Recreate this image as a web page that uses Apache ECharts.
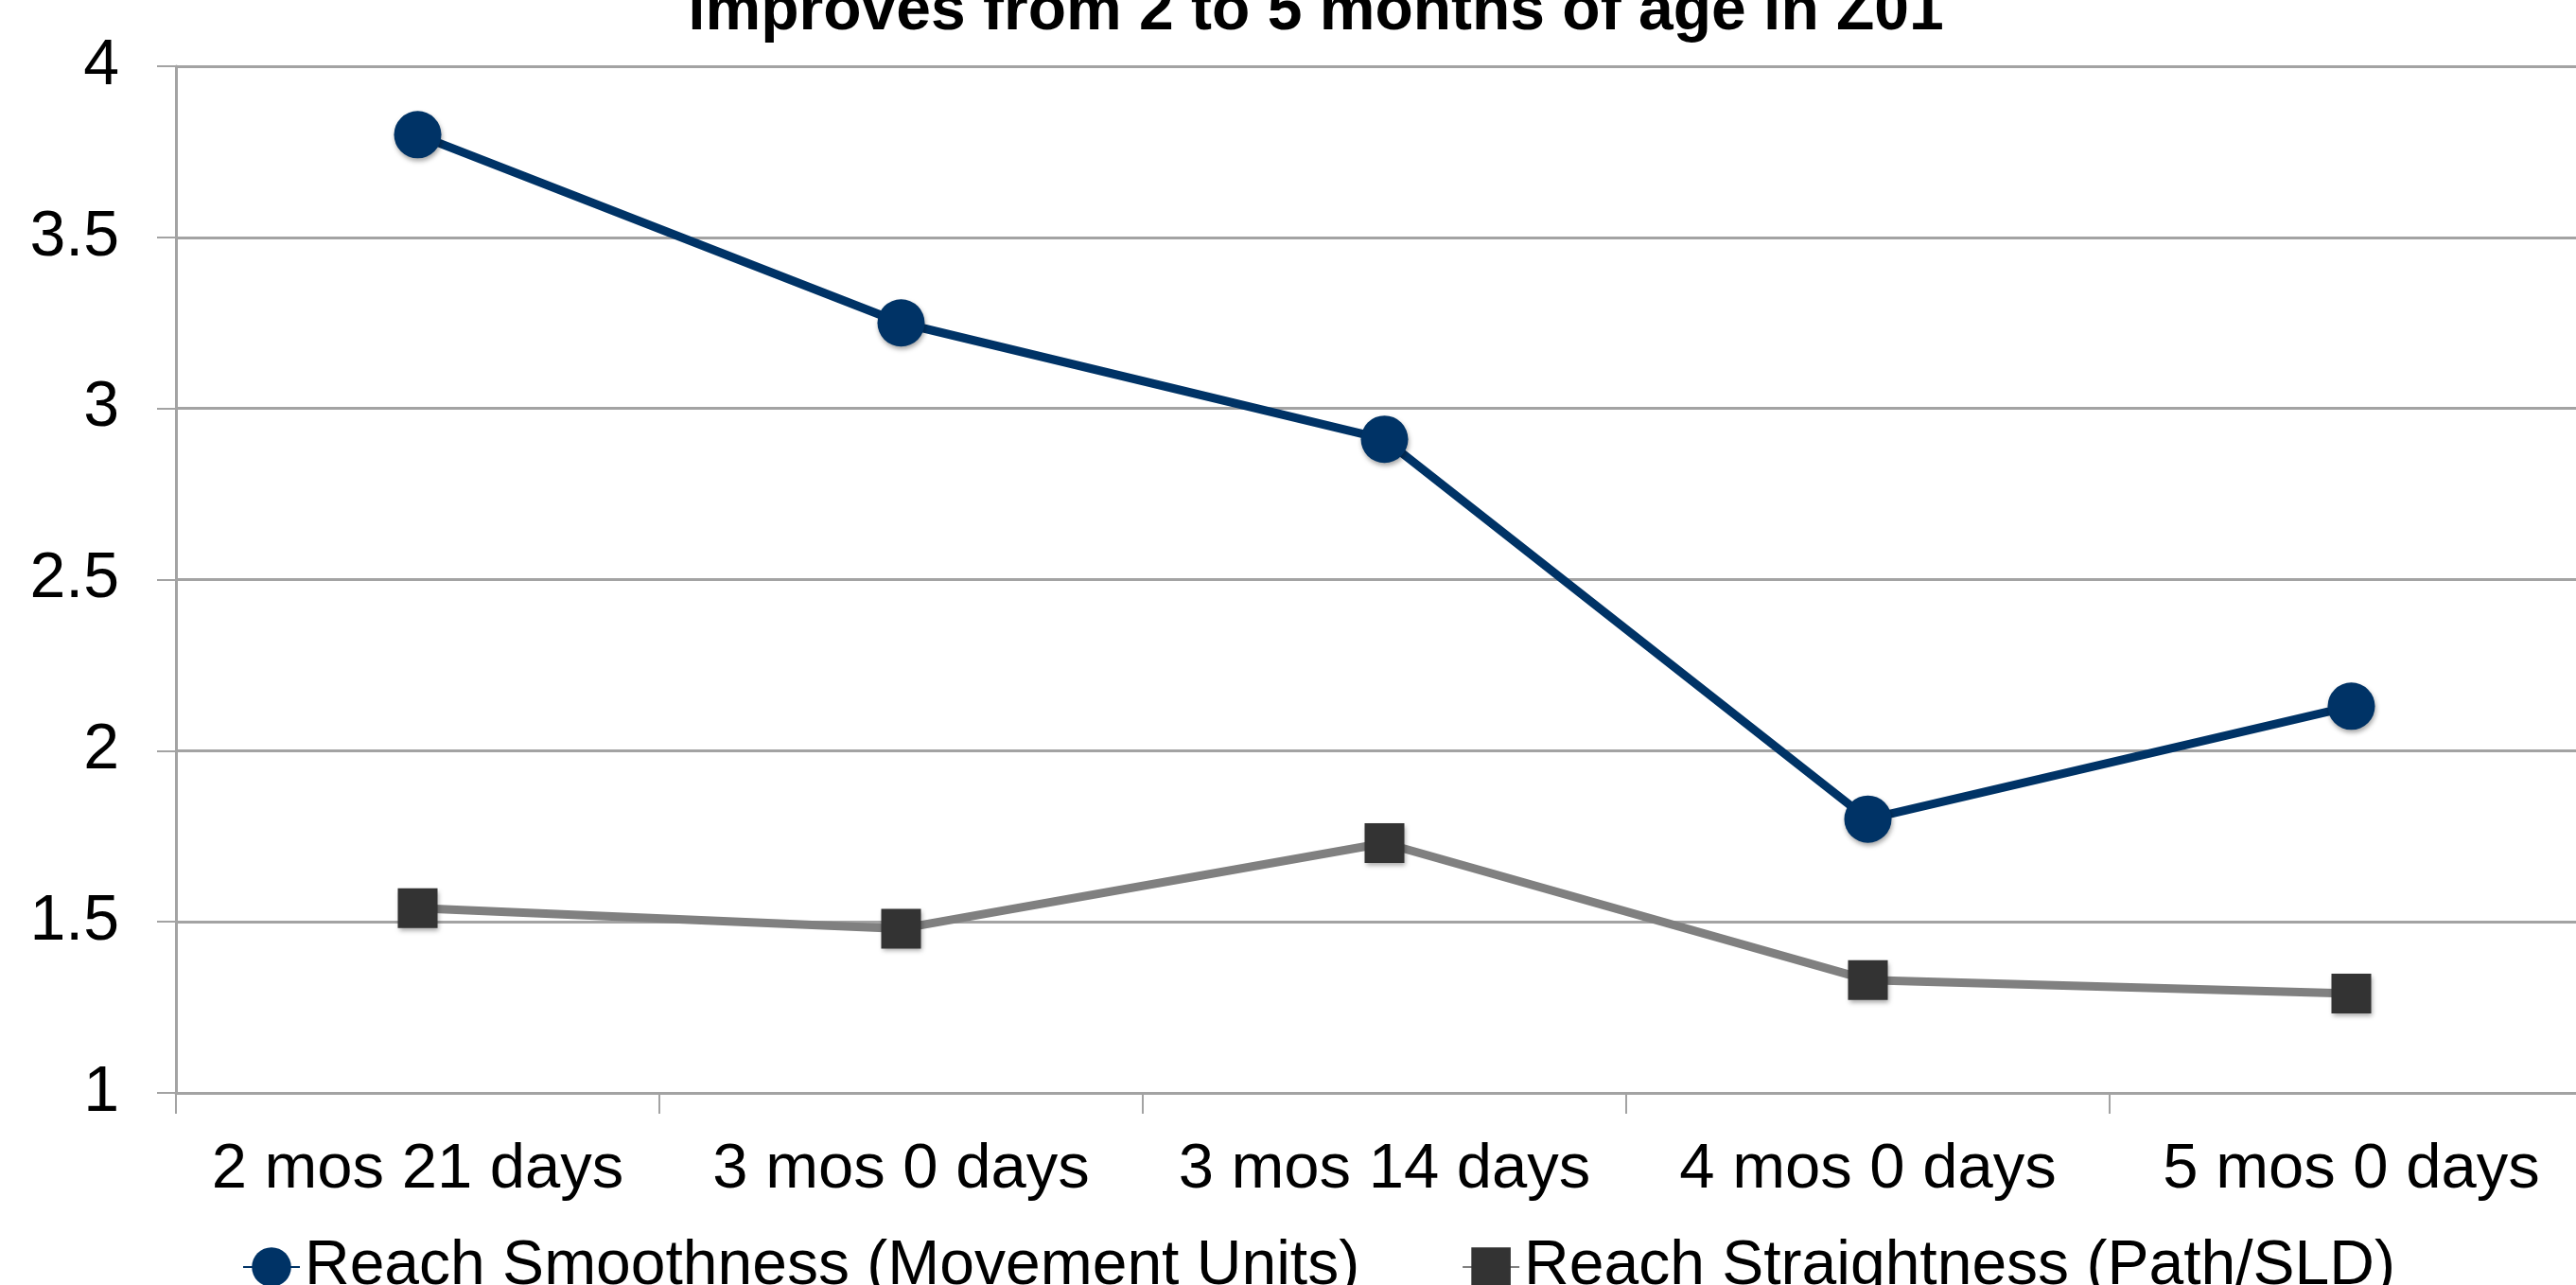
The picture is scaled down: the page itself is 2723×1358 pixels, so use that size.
<!DOCTYPE html>
<html>
<head>
<meta charset="utf-8">
<script src="https://cdn.jsdelivr.net/npm/echarts@6/dist/echarts.min.js"></script>
<style>
  html, body { margin: 0; padding: 0; background: #ffffff; }
  #chart { width: 2723px; height: 1358px; }
</style>
</head>
<body>
<div id="chart"></div>
<script>
// Ages at which reaching was measured
const ageLabels = ['2 mos 21 days', '3 mos 0 days', '3 mos 14 days', '4 mos 0 days', '5 mos 0 days'];

// Movement units per reach (lower = smoother)
const smoothness = [3.80, 3.25, 2.91, 1.80, 2.13];

// Path length / straight-line distance (lower = straighter)
const straightness = [1.54, 1.48, 1.73, 1.33, 1.29];

const yMin = 1;
const yMax = 4;
const yStep = 0.5;

const seriesNames = ['Reach Smoothness (Movement Units)', 'Reach Straightness (Path/SLD)'];
const titleText = 'improves from 2 to 5 months of age in Z01';

const FONT = '"Liberation Sans", Arial, Helvetica, sans-serif';
const gridGray = '#a3a3a3';
const markerShadow = {
  shadowColor: 'rgba(0,0,0,0.35)',
  shadowBlur: 5,
  shadowOffsetX: 1,
  shadowOffsetY: 3
};

const chart = echarts.init(document.getElementById('chart'), null, { renderer: 'canvas' });

chart.setOption({
  backgroundColor: '#ffffff',
  animation: false,
  title: {
    text: titleText,
    left: 1391,
    top: -20,
    padding: 0,
    textAlign: 'center',
    textStyle: {
      fontFamily: FONT,
      fontWeight: 'bold',
      fontSize: 66,
      lineHeight: 66,
      color: '#000000'
    }
  },
  legend: {
    data: seriesNames,
    left: 256,
    top: 1306,
    padding: 0,
    itemWidth: 60,
    itemHeight: 52,
    itemGap: 108,
    textStyle: {
      fontFamily: FONT,
      fontSize: 66,
      color: '#000000'
    }
  },
  grid: {
    left: 186,
    top: 70,
    width: 2555,
    bottom: 203,
    outerBoundsMode: 'none',
    containLabel: false
  },
  xAxis: {
    type: 'category',
    data: ageLabels,
    boundaryGap: true,
    axisLine: { show: true, lineStyle: { color: gridGray, width: 3 } },
    axisTick: { show: true, interval: 0, length: 22, lineStyle: { color: gridGray, width: 2 } },
    axisLabel: {
      interval: 0,
      margin: 48,
      fontFamily: FONT,
      fontSize: 67,
      color: '#000000'
    },
    splitLine: { show: false }
  },
  yAxis: {
    type: 'value',
    min: yMin,
    max: yMax,
    interval: yStep,
    axisLine: { show: true, lineStyle: { color: gridGray, width: 3 } },
    axisTick: { show: true, length: 20, lineStyle: { color: gridGray, width: 2 } },
    axisLabel: {
      margin: 60,
      fontFamily: FONT,
      fontSize: 68,
      color: '#000000'
    },
    splitLine: { show: true, lineStyle: { color: gridGray, width: 3 } }
  },
  series: [
    {
      name: seriesNames[0],
      type: 'line',
      data: smoothness,
      symbol: 'circle',
      symbolSize: 50,
      lineStyle: { color: '#003366', width: 9 },
      itemStyle: Object.assign({ color: '#003366' }, markerShadow),
      z: 3
    },
    {
      name: seriesNames[1],
      type: 'line',
      data: straightness,
      symbol: 'rect',
      symbolSize: 42,
      lineStyle: { color: '#808080', width: 9 },
      itemStyle: Object.assign({ color: '#333333' }, markerShadow),
      z: 2
    }
  ]
});
</script>
</body>
</html>
